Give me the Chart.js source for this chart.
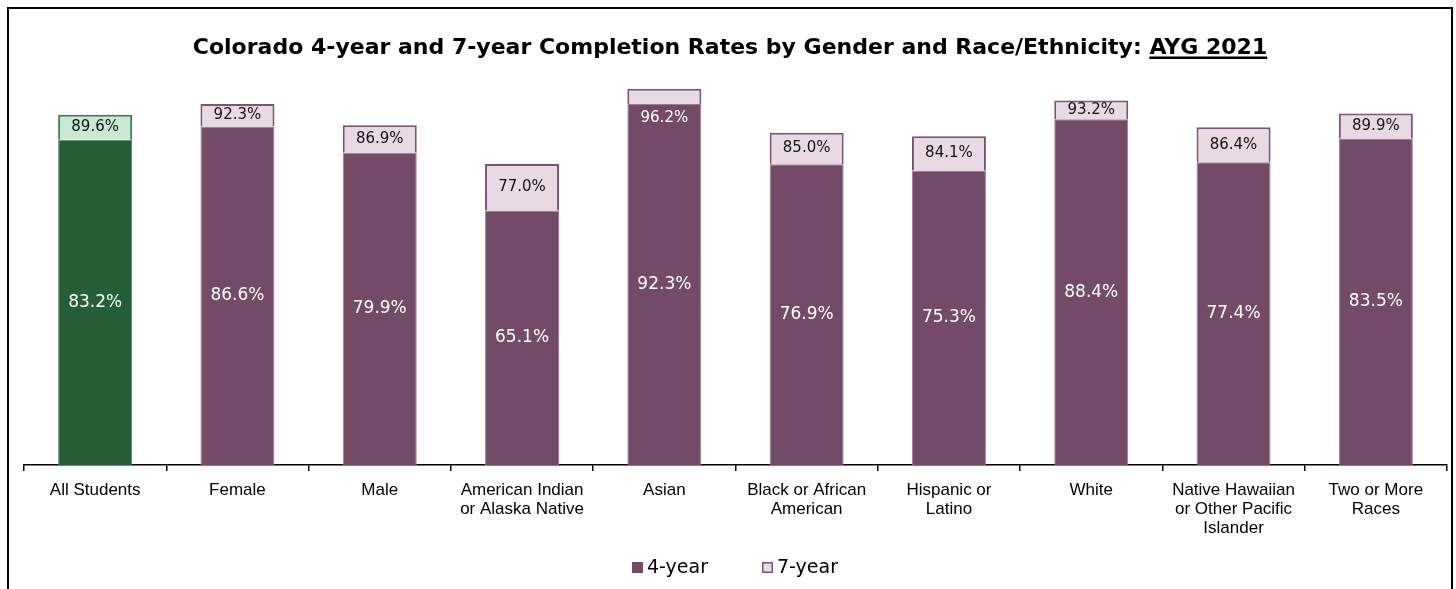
<!DOCTYPE html>
<html>
<head>
<meta charset="utf-8">
<script src="https://cdn.jsdelivr.net/npm/chart.js@4.4.1/dist/chart.umd.min.js"></script>
<style>
  html, body { margin: 0; padding: 0; background: #fff; }
  #wrap { position: relative; width: 1456px; height: 589px; overflow: hidden; }
  #frame { position: absolute; left: 7px; top: 7px; width: 1446px; height: 620px; border: 2px solid #000; box-sizing: border-box; pointer-events: none; }
  canvas { position: absolute; left: 0; top: 0; }
</style>
</head>
<body>
<div id="wrap">
  <canvas id="completionChart" width="1456" height="589"></canvas>
  <div id="frame"></div>
</div>
<script>
const categories = [
  'All Students', 'Female', 'Male', ['American Indian', 'or Alaska Native'], 'Asian',
  ['Black or African', 'American'], ['Hispanic or', 'Latino'], 'White',
  ['Native Hawaiian', 'or Other Pacific', 'Islander'], ['Two or More', 'Races']
];
const fourYear = [83.2, 86.6, 79.9, 65.1, 92.3, 76.9, 75.3, 88.4, 77.4, 83.5];
const sevenYear = [89.6, 92.3, 86.9, 77.0, 96.2, 85.0, 84.1, 93.2, 86.4, 89.9];
const seriesNames = ['4-year', '7-year'];

// top segment is the extra gained between year 4 and year 7
const extra = sevenYear.map((v, i) => +(v - fourYear[i]).toFixed(1));

const purple = '#734A68', purpleEdge = '#a07a96';
const pink = '#E8D9E4', pinkEdge = '#7d5273';
const green = '#255E38', greenEdge = '#4f8a60';
const lightGreen = '#C8EAD3', lightGreenEdge = '#3f7a50';

const titleFont = 'bold 22px "DejaVu Sans"';

const titlePlugin = {
  id: 'titlePlugin',
  afterDraw(chart) {
    const ctx = chart.ctx;
    const a = 'Colorado 4-year and 7-year Completion Rates by Gender and Race/Ethnicity: ';
    const b = 'AYG 2021';
    ctx.save();
    ctx.font = titleFont;
    ctx.fillStyle = '#000';
    ctx.textBaseline = 'alphabetic';
    ctx.textAlign = 'left';
    const wa = ctx.measureText(a).width, wb = ctx.measureText(b).width;
    const x0 = 730 - (wa + wb) / 2;
    ctx.fillText(a, x0, 54);
    ctx.fillText(b, x0 + wa, 54);
    ctx.fillRect(x0 + wa, 56.5, wb, 2.5);
    ctx.restore();
  }
};

const labelPlugin = {
  id: 'labelPlugin',
  afterDatasetsDraw(chart) {
    const ctx = chart.ctx;
    const m0 = chart.getDatasetMeta(0), m1 = chart.getDatasetMeta(1);
    ctx.save();
    ctx.textAlign = 'center';
    ctx.textBaseline = 'middle';
    m0.data.forEach((bar, i) => {
      ctx.font = '17px "DejaVu Sans"';
      ctx.fillStyle = '#fff';
      ctx.fillText(fourYear[i].toFixed(1) + '%', bar.x, (bar.y + bar.base) / 2);
    });
    m1.data.forEach((bar, i) => {
      ctx.font = '15px "DejaVu Sans"';
      const h = bar.base - bar.y;
      if (h < 16) {
        ctx.fillStyle = '#fff';
        ctx.fillText(sevenYear[i].toFixed(1) + '%', bar.x, bar.base + 14);
      } else {
        ctx.fillStyle = '#111';
        ctx.fillText(sevenYear[i].toFixed(1) + '%', bar.x, (bar.y + bar.base) / 2);
      }
    });
    ctx.restore();
  }
};

const legendPlugin = {
  id: 'legendPlugin',
  afterDraw(chart) {
    const ctx = chart.ctx;
    ctx.save();
    ctx.font = '19px "DejaVu Sans"';
    ctx.textBaseline = 'middle';
    ctx.textAlign = 'left';
    const items = [
      { x: 632, fill: purple, edge: purple },
      { x: 762, fill: pink, edge: pinkEdge }
    ];
    items.forEach((it, i) => {
      ctx.fillStyle = it.fill;
      ctx.fillRect(it.x, 562, 11, 11);
      ctx.strokeStyle = it.edge;
      ctx.lineWidth = 1.5;
      ctx.strokeRect(it.x + 0.75, 562.75, 9.5, 9.5);
      ctx.fillStyle = '#000';
      ctx.fillText(seriesNames[i], it.x + 15, 568);
    });
    ctx.restore();
  }
};

new Chart(document.getElementById('completionChart'), {
  type: 'bar',
  data: {
    labels: categories,
    datasets: [
      {
        label: seriesNames[0],
        data: fourYear,
        backgroundColor: fourYear.map((v, i) => i === 0 ? green : purple),
        borderColor: fourYear.map((v, i) => i === 0 ? greenEdge : purpleEdge),
        borderWidth: 1,
        barPercentage: 0.52,
        categoryPercentage: 1
      },
      {
        label: seriesNames[1],
        data: extra,
        backgroundColor: extra.map((v, i) => i === 0 ? lightGreen : pink),
        borderColor: extra.map((v, i) => i === 0 ? lightGreenEdge : pinkEdge),
        borderWidth: 2,
        barPercentage: 0.52,
        categoryPercentage: 1
      }
    ]
  },
  options: {
    responsive: false,
    animation: false,
    layout: { padding: { left: 24, right: 9, top: 74, bottom: 0 } },
    plugins: {
      legend: { display: false },
      title: { display: false },
      tooltip: { enabled: false }
    },
    scales: {
      x: {
        stacked: true,
        offset: true,
        grid: {
          offset: true,
          drawOnChartArea: false,
          drawTicks: true,
          tickLength: 6,
          color: '#000',
          lineWidth: 1.5
        },
        border: { display: true, color: '#000', width: 1.5 },
        ticks: {
          color: '#000',
          font: { family: '"Liberation Sans"', size: 17, lineHeight: 19 / 17 },
          padding: 10,
          maxRotation: 0,
          autoSkip: false
        },
        afterFit(scale) { scale.height = 124; }
      },
      y: {
        stacked: true,
        display: false,
        min: 0,
        max: 100
      }
    }
  },
  plugins: [titlePlugin, labelPlugin, legendPlugin]
});
</script>
</body>
</html>
